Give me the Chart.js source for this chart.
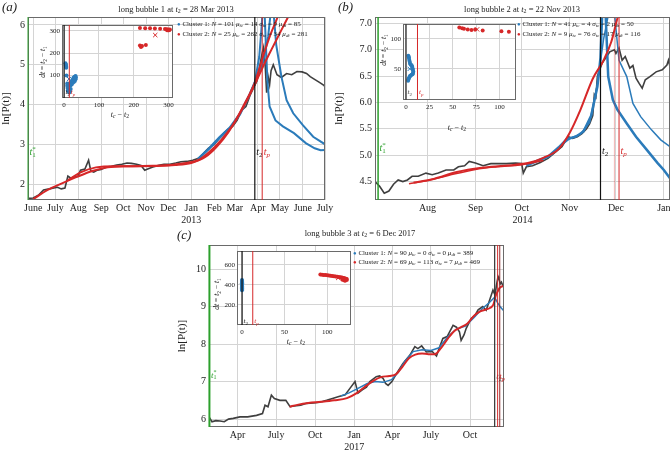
<!DOCTYPE html>
<html>
<head>
<meta charset="utf-8">
<script src="https://cdn.jsdelivr.net/npm/chart.js@4.4.1/dist/chart.umd.min.js"></script>
<style>
  html, body { margin: 0; padding: 0; background: #fff; }
  #fig { position: relative; width: 670px; height: 456px; overflow: hidden; background: #fff;
         font-family: "Liberation Serif", "DejaVu Serif", serif; color: #222; }
  #fig canvas { position: absolute; }
  .t { position: absolute; white-space: nowrap; line-height: 1; }
  .c { transform: translateX(-50%); }
  .mid { transform: translate(-50%, -50%); }
  .rot { transform: translate(-50%, -50%) rotate(-90deg); }
  sub { font-size: 70%; line-height: 0; vertical-align: -0.25em; }
  .leg { position: absolute; font-size: 7px; line-height: 9.5px; white-space: nowrap; }
  .leg span { font-size: 6px; }
</style>
</head>
<body>
<div id="fig">
  <canvas id="ca" width="340" height="228" style="left:0;top:0"></canvas>
  <canvas id="cb" width="337" height="228" style="left:333px;top:0"></canvas>
  <canvas id="cc" width="340" height="228" style="left:176px;top:228px"></canvas>
  <canvas id="ia" width="138" height="100" style="left:40px;top:20px"></canvas>
  <canvas id="ib" width="141" height="104" style="left:380px;top:18px"></canvas>
  <canvas id="ic" width="142" height="101" style="left:214px;top:246px"></canvas>

  <div class="t" style="left:2px;top:0;font-size:13px;font-style:italic">(a)</div>
  <div class="t" style="left:338px;top:0;font-size:13px;font-style:italic">(b)</div>
  <div class="t" style="left:177px;top:228px;font-size:13px;font-style:italic">(c)</div>

  <div class="t c" style="left:176px;top:5px;font-size:8.5px">long bubble 1 at <i>t</i><sub>2</sub> = 28 Mar 2013</div>
  <div class="t c" style="left:522px;top:5px;font-size:8.5px">long bubble 2 at <i>t</i><sub>2</sub> = 22 Nov 2013</div>
  <div class="t c" style="left:360px;top:229px;font-size:8.5px">long bubble 3 at <i>t</i><sub>2</sub> = 6 Dec 2017</div>

  <div class="t rot" style="left:43px;top:62px;font-size:7.5px"><i>dt</i> = <i>t</i><sub>2</sub> − <i>t</i><sub>1</sub></div>
  <div class="t mid" style="left:120px;top:115px;font-size:8px"><i>t<sub>c</sub></i> − <i>t</i><sub>2</sub></div>
  <div class="t rot" style="left:384px;top:50px;font-size:7.5px"><i>dt</i> = <i>t</i><sub>2</sub> − <i>t</i><sub>1</sub></div>
  <div class="t mid" style="left:457px;top:128px;font-size:8px"><i>t<sub>c</sub></i> − <i>t</i><sub>2</sub></div>
  <div class="t rot" style="left:217px;top:294px;font-size:7.5px"><i>dt</i> = <i>t</i><sub>2</sub> − <i>t</i><sub>1</sub></div>
  <div class="t mid" style="left:296px;top:342px;font-size:8px"><i>t<sub>c</sub></i> − <i>t</i><sub>2</sub></div>

  <div class="leg" style="left:177px;top:20px">
    <div><span style="color:#2b7bba">●</span> Cluster 1: <i>N</i> = 101 <i>μ<sub>tc</sub></i> = 14 <i>σ<sub>tc</sub></i> = 9 <i>μ<sub>dt</sub></i> = 85</div>
    <div><span style="color:#d62728">●</span> Cluster 2: <i>N</i> = 25 <i>μ<sub>tc</sub></i> = 262 <i>σ<sub>tc</sub></i> = 34 <i>μ<sub>dt</sub></i> = 281</div>
  </div>
  <div class="leg" style="left:517px;top:20px">
    <div><span style="color:#2b7bba">●</span> Cluster 1: <i>N</i> = 41 <i>μ<sub>tc</sub></i> = 4 <i>σ<sub>tc</sub></i> = 2 <i>μ<sub>dt</sub></i> = 50</div>
    <div><span style="color:#d62728">●</span> Cluster 2: <i>N</i> = 9 <i>μ<sub>tc</sub></i> = 76 <i>σ<sub>tc</sub></i> = 17 <i>μ<sub>dt</sub></i> = 116</div>
  </div>
  <div class="leg" style="left:353px;top:249px;line-height:9px">
    <div><span style="color:#2b7bba">●</span> Cluster 1: <i>N</i> = 90 <i>μ<sub>tc</sub></i> = 0 <i>σ<sub>tc</sub></i> = 0 <i>μ<sub>dt</sub></i> = 389</div>
    <div><span style="color:#d62728">●</span> Cluster 2: <i>N</i> = 69 <i>μ<sub>tc</sub></i> = 113 <i>σ<sub>tc</sub></i> = 7 <i>μ<sub>dt</sub></i> = 469</div>
  </div>
</div>

<script>
// ---------- panel (a): long bubble 1 ----------
const aDates = [
  '2012-05-25','2012-06-01','2012-06-08','2012-06-15','2012-06-23','2012-06-29','2012-07-04','2012-07-09',
  '2012-07-14','2012-07-18','2012-07-22','2012-07-27','2012-08-01','2012-08-04','2012-08-10','2012-08-15',
  '2012-08-18','2012-08-22','2012-08-27','2012-09-01','2012-09-08','2012-09-15','2012-09-22','2012-09-29',
  '2012-10-06','2012-10-12','2012-10-19','2012-10-25','2012-10-30','2012-11-03','2012-11-10','2012-11-18',
  '2012-11-25','2012-12-03','2012-12-11','2012-12-18','2012-12-26','2013-01-03','2013-01-11','2013-01-18',
  '2013-01-24','2013-02-01','2013-02-08','2013-02-14','2013-02-20','2013-02-26','2013-03-04','2013-03-10',
  '2013-03-16','2013-03-22','2013-03-27','2013-03-31','2013-04-04','2013-04-07','2013-04-09','2013-04-11',
  '2013-04-13','2013-04-15','2013-04-17','2013-04-19','2013-04-22','2013-04-27','2013-05-03','2013-05-10',
  '2013-05-17','2013-05-24','2013-05-31','2013-06-06','2013-06-11','2013-06-18','2013-06-24','2013-06-29',
  '2013-07-01'];
const aPrice = [
  1.64,1.65,1.72,1.85,1.88,1.90,1.92,1.88,
  1.90,2.20,2.15,2.17,2.20,2.35,2.38,2.60,
  2.33,2.30,2.35,2.37,2.43,2.45,2.48,2.50,
  2.53,2.52,2.50,2.47,2.35,2.38,2.43,2.47,
  2.50,2.50,2.53,2.56,2.57,2.60,2.65,2.78,
  2.90,3.00,3.15,3.28,3.38,3.45,3.60,3.85,
  3.95,4.25,4.45,4.60,5.00,5.30,5.45,5.00,
  4.30,4.70,4.50,4.85,5.00,4.75,4.68,4.78,
  4.75,4.83,4.82,4.78,4.70,4.62,4.55,4.49,
  4.45];
const aFit1Dates = ['2012-06-01','2012-06-20','2012-07-10','2012-07-30','2012-08-20','2012-09-10','2012-10-10',
  '2012-11-10','2012-12-10','2013-01-01','2013-01-20','2013-02-05','2013-02-20','2013-03-05','2013-03-15',
  '2013-03-28','2013-04-08','2013-04-18','2013-04-28','2013-05-05'];
const aFit1 = [1.62,1.85,2.02,2.18,2.33,2.42,2.45,2.46,2.48,2.53,2.68,2.95,3.30,3.70,4.05,4.55,5.20,5.75,6.20,6.55];
const aFit2Dates = ['2012-07-18','2012-08-05','2012-08-25','2012-09-20','2012-10-20','2012-11-20','2012-12-20',
  '2013-01-10','2013-01-25','2013-02-10','2013-02-25','2013-03-10','2013-03-28','2013-04-08','2013-04-20',
  '2013-05-01','2013-05-12','2013-05-20'];
const aFit2 = [2.10,2.30,2.42,2.45,2.45,2.46,2.52,2.60,2.80,3.10,3.45,3.85,4.50,4.95,5.40,5.80,6.20,6.50];
const aBlue1Dates = ['2013-01-10','2013-01-25','2013-02-08','2013-02-22','2013-03-08','2013-03-20','2013-03-28',
  '2013-04-03','2013-04-06','2013-04-08','2013-04-10','2013-04-12','2013-04-14','2013-04-17','2013-04-25',
  '2013-05-05','2013-05-20','2013-06-05','2013-06-17','2013-06-25','2013-07-01'];
const aBlue1 = [2.62,2.88,3.15,3.40,3.75,4.20,4.55,5.20,5.90,6.50,6.40,5.50,4.60,3.95,3.60,3.45,3.28,3.03,2.90,2.85,2.86];
const aBlue2Dates = ['2013-01-10','2013-01-25','2013-02-08','2013-02-22','2013-03-08','2013-03-20','2013-03-28',
  '2013-04-08','2013-04-15','2013-04-19','2013-04-22','2013-04-26','2013-05-03','2013-05-10','2013-05-19',
  '2013-06-01','2013-06-15','2013-07-01'];
const aBlue2 = [2.64,2.90,3.18,3.42,3.78,4.22,4.57,5.05,5.70,6.40,6.40,5.50,4.70,4.11,3.78,3.48,3.19,3.00];
const aXTicks = ['2012-06-01','2012-07-01','2012-08-01','2012-09-01','2012-10-01','2012-11-01','2012-12-01',
  '2013-01-01','2013-02-01','2013-03-01','2013-04-01','2013-05-01','2013-06-01','2013-07-01'];
const aXLabels = ['June','July','Aug','Sep','Oct','Nov','Dec',['Jan','2013'],'Feb','Mar','Apr','May','June','July'];
const aYTicks = [2, 3, 4, 5, 6];
const aYLabels = ['2','3','4','5','6'];
const aT1 = '2012-05-25', aT2 = '2013-03-28', aTp = '2013-04-07';

// inset (a): clusters in (tc - t2, dt)
const aInsBlueX = [4,5,5,6,6,7,9,9,10,11,13,15,17,19,18,16,19,21,24,27,30,33,34,33,31,28,25,22];
const aInsBlueY = [155,150,145,140,135,100,65,55,45,35,28,25,30,40,55,62,68,75,82,90,95,98,92,84,76,72,68,60];
const aInsRedX = [218,233,247,261,276,290,295,298,300,302,304,296,299,301,218,221,224,235];
const aInsRedY = [313,312,311,310,309,308,307,305,306,304,306,303,303,302,234,228,232,237];
const aInsMeans = { blue: [14, 85], red: [262, 281] };
const aInsTp = 15;

// ---------- panel (b): long bubble 2 ----------
const bDates = [
  '2013-06-28','2013-07-01','2013-07-04','2013-07-07','2013-07-10','2013-07-13','2013-07-16','2013-07-19',
  '2013-07-22','2013-07-26','2013-07-31','2013-08-04','2013-08-08','2013-08-13','2013-08-18','2013-08-21',
  '2013-08-25','2013-08-28','2013-09-01','2013-09-06','2013-09-11','2013-09-16','2013-09-21','2013-09-27',
  '2013-10-01','2013-10-02','2013-10-04','2013-10-08','2013-10-13','2013-10-18','2013-10-22','2013-10-27',
  '2013-10-31','2013-11-03','2013-11-06','2013-11-09','2013-11-12','2013-11-14','2013-11-16','2013-11-17',
  '2013-11-18','2013-11-19','2013-11-22','2013-11-25','2013-11-27','2013-11-30','2013-12-01','2013-12-03',
  '2013-12-05','2013-12-07','2013-12-10','2013-12-12','2013-12-14','2013-12-16','2013-12-18','2013-12-20',
  '2013-12-23','2013-12-27','2013-12-31','2014-01-03','2014-01-04','2014-01-05'];
const bPrice = [
  4.50,4.41,4.28,4.32,4.45,4.53,4.50,4.53,
  4.60,4.60,4.66,4.63,4.66,4.72,4.72,4.78,
  4.80,4.88,4.85,4.80,4.84,4.84,4.84,4.85,
  4.84,4.66,4.78,4.80,4.86,4.94,5.04,5.16,
  5.35,5.32,5.35,5.41,5.50,5.60,5.75,6.15,
  6.10,6.50,6.74,6.87,6.96,7.00,6.93,7.03,
  6.80,6.87,6.65,6.70,6.46,6.36,6.27,6.43,
  6.49,6.58,6.62,6.71,6.80,6.68];
const bFit1Dates = ['2013-07-23','2013-08-05','2013-08-20','2013-09-05','2013-09-20','2013-10-05','2013-10-15',
  '2013-10-25','2013-11-01','2013-11-08','2013-11-16','2013-11-23','2013-11-28','2013-12-02','2013-12-05'];
const bFit1 = [4.48,4.55,4.68,4.76,4.80,4.85,4.95,5.12,5.42,5.86,6.45,6.80,7.15,7.60,7.90];
const bFit2Dates = ['2013-07-20','2013-08-01','2013-08-15','2013-09-01','2013-09-15','2013-10-01','2013-10-15'];
const bFit2 = [4.46,4.52,4.62,4.73,4.78,4.82,4.90];
const bBlue1Dates = ['2013-10-04','2013-10-10','2013-10-18','2013-10-25','2013-10-30','2013-11-05','2013-11-10',
  '2013-11-15','2013-11-19','2013-11-21','2013-11-22','2013-11-24','2013-11-26','2013-11-29','2013-12-02',
  '2013-12-08','2013-12-14','2013-12-21','2013-12-28','2014-01-01','2014-01-05'];
const bBlue1 = [4.80,4.88,4.97,5.15,5.30,5.35,5.45,5.75,6.30,6.85,7.60,7.90,6.49,6.05,5.86,5.60,5.35,5.10,4.85,4.72,4.56];
const bBlue2Dates = ['2013-10-04','2013-10-12','2013-10-20','2013-10-27','2013-11-02','2013-11-08','2013-11-14',
  '2013-11-19','2013-11-23','2013-11-27','2013-11-30','2013-12-03','2013-12-08','2013-12-12','2013-12-17',
  '2013-12-24','2013-12-30','2014-01-05'];
const bBlue2 = [4.82,4.90,5.00,5.20,5.33,5.40,5.62,6.35,7.20,7.80,7.70,6.80,6.49,5.98,5.73,5.48,5.29,5.16];
const bXTicks = ['2013-08-01','2013-09-01','2013-10-01','2013-11-01','2013-12-01','2014-01-01'];
const bXLabels = ['Aug','Sep','Oct','Nov','Dec','Jan'];
const bYTicks = [4.5, 5.0, 5.5, 6.0, 6.5, 7.0, 7.5];
const bYLabels = ['4.5','5.0','5.5','6.0','6.5','7.0','7.0'];
const bT1 = '2013-06-30', bT2 = '2013-11-21', bTpFaint = '2013-11-30', bTp = '2013-12-03';

const bInsBlueX = [2.5,3,3.2,3.5,4,4.3,5,6,6.5,7,7.5,7.8,7.5,7,6,5,4.3,3.5,3,2.5,2.2];
const bInsBlueY = [72,70,68,65,62,59,57,56,54,51,48,45,43,41,40,39,38,36,34,32,30];
const bInsRedX = [57,60,62,66,70,74,82,102,110];
const bInsRedY = [119,118,117,116,115,116,114,113,112];
const bInsMeans = { blue: [4, 50], red: [76, 116] };
const bInsTp = 12.3;

// ---------- panel (c): long bubble 3 ----------
const cDates = [
  '2016-01-25','2016-01-27','2016-02-01','2016-02-10','2016-02-20','2016-03-01','2016-03-11','2016-03-22',
  '2016-04-07','2016-04-25','2016-05-16','2016-05-30','2016-06-05','2016-06-12','2016-06-20','2016-06-27',
  '2016-07-10','2016-07-24','2016-08-03','2016-08-13','2016-08-28','2016-09-11','2016-09-27','2016-10-12',
  '2016-10-28','2016-11-11','2016-11-26','2016-12-11','2016-12-22','2017-01-03','2017-01-10','2017-01-20',
  '2017-01-30','2017-02-07','2017-02-22','2017-03-02','2017-03-10','2017-03-16','2017-03-22','2017-03-31',
  '2017-04-11','2017-04-26','2017-05-12','2017-05-24','2017-05-31','2017-06-09','2017-06-20','2017-07-04',
  '2017-07-14','2017-07-20','2017-07-29','2017-08-08','2017-08-22','2017-08-30','2017-09-06','2017-09-10',
  '2017-09-17','2017-09-22','2017-10-04','2017-10-12','2017-10-20','2017-10-31','2017-11-08','2017-11-16',
  '2017-11-24','2017-11-29','2017-12-02','2017-12-06','2017-12-08','2017-12-11','2017-12-14','2017-12-17',
  '2017-12-20'];
const cPrice = [
  6.00,6.02,5.93,5.96,5.95,5.93,6.00,6.02,
  6.06,6.06,6.10,6.15,6.37,6.33,6.64,6.55,
  6.50,6.50,6.33,6.35,6.37,6.42,6.43,6.45,
  6.50,6.55,6.60,6.65,6.82,7.00,6.69,6.78,
  6.85,7.00,7.13,7.15,7.09,6.95,6.90,7.00,
  7.22,7.48,7.70,7.93,7.88,7.95,7.79,7.80,
  7.68,7.88,8.15,8.20,8.50,8.45,8.33,8.10,
  8.25,8.42,8.69,8.75,8.91,9.00,8.90,9.17,
  9.44,9.30,9.55,9.80,9.75,9.60,9.65,9.56,
  9.60];
const cFitDates = ['2016-08-02','2016-08-20','2016-09-15','2016-10-15','2016-11-15','2016-12-15','2017-01-05',
  '2017-01-25','2017-02-15','2017-03-05','2017-03-25','2017-04-10','2017-04-25','2017-05-10','2017-05-25',
  '2017-06-10','2017-06-25','2017-07-10','2017-07-25','2017-08-10','2017-08-25','2017-09-10','2017-09-25',
  '2017-10-10','2017-10-25','2017-11-10','2017-11-25','2017-12-01','2017-12-05','2017-12-10','2017-12-20'];
const cFit = [6.33,6.38,6.43,6.46,6.50,6.56,6.68,6.85,7.02,7.12,7.15,7.20,7.40,7.62,7.72,7.75,7.73,7.73,7.90,
  8.15,8.35,8.45,8.55,8.75,8.87,8.93,9.05,9.30,9.40,9.50,9.55];
const cBlueDates = ['2016-12-01','2016-12-20','2017-01-10','2017-02-01','2017-02-20','2017-03-10','2017-03-30',
  '2017-04-15','2017-05-01','2017-05-20','2017-06-10','2017-07-01','2017-07-20','2017-08-10','2017-08-30',
  '2017-09-20','2017-10-10','2017-10-30','2017-11-15','2017-11-28','2017-12-05','2017-12-12','2017-12-20'];
const cBlue = [6.62,6.70,6.82,6.95,7.00,6.98,7.05,7.25,7.55,7.80,7.85,7.83,7.90,8.20,8.40,8.48,8.70,8.95,9.10,
  9.25,9.10,8.98,8.88];
const cXTicks = ['2016-04-01','2016-07-01','2016-10-01','2017-01-01','2017-04-01','2017-07-01','2017-10-01'];
const cXLabels = ['Apr','July','Oct',['Jan','2017'],'Apr','July','Oct'];
const cYTicks = [6, 7, 8, 9, 10];
const cYLabels = ['6','7','8','9','10'];
const cT1 = '2016-01-26', cT2 = '2017-11-28', cTp = '2017-12-05', cTp2 = '2017-12-10';

const cInsBlueX = [0,0,0,0,0,0,0,0,0,0,0,0,0,0,0];
const cInsBlueY = [345,355,365,372,380,386,392,398,404,410,418,425,432,440,448];
const cInsRedX = [92,94,96,98,100,102,104,106,108,110,112,114,116,117,118,119,120,121,122,123,118,120,121,122,123];
const cInsRedY = [502,501,499,497,495,492,490,488,485,482,480,477,474,472,470,467,465,463,460,458,450,445,440,455,448];
const cInsMeans = { blue: [0, 389], red: [113, 469] };
const cInsTp = 12.6;

// ---------- drawing ----------
const SERIF = '"Liberation Serif", "DejaVu Serif", serif';
const GRID = '#d4d4d4', FRAME = '#6a6a6a';
const GRAY = '#3f3f3f', BLUE = '#2b7bba', RED = '#d62728', GREEN = '#2ca02c', BLACK = '#111111';
Chart.defaults.font.family = SERIF;
Chart.defaults.color = '#222';

const day = s => Date.parse(s) / 864e5;
const series = (dates, vals) => dates.map((d, i) => ({ x: day(d), y: vals[i] }));
const xy = (xs, ys) => xs.map((x, i) => ({ x: x, y: ys[i] }));

const T1 = { base: 't', sub: '1', sup: '*' }, T2 = { base: 't', sub: '2' }, TP = { base: 't', sub: 'p' };

function drawLabel(ctx, x, y, lab, color, size) {
  ctx.save();
  ctx.fillStyle = color;
  ctx.textAlign = 'left';
  ctx.textBaseline = 'middle';
  ctx.font = 'italic ' + size + 'px ' + SERIF;
  ctx.fillText(lab.base, x, y);
  const w = ctx.measureText(lab.base).width;
  const s = Math.round(size * 0.7);
  ctx.font = (/\d/.test(lab.sub) ? '' : 'italic ') + s + 'px ' + SERIF;
  if (lab.sub) ctx.fillText(lab.sub, x + w, y + size * 0.3);
  if (lab.sup) ctx.fillText(lab.sup, x + w, y - size * 0.35);
  ctx.restore();
}

// vertical marker lines, frame and inset background, keyed by canvas id
const MARKS = {};
Chart.register({
  id: 'marks',
  beforeDraw(chart) {
    const m = MARKS[chart.canvas.id];
    if (!m || !m.fill) return;
    const a = chart.chartArea, ctx = chart.ctx;
    ctx.save();
    ctx.fillStyle = m.fill;
    ctx.fillRect(a.left, a.top, a.right - a.left, a.bottom - a.top);
    ctx.restore();
  },
  afterDatasetsDraw(chart) {
    const m = MARKS[chart.canvas.id] || {};
    const { ctx, chartArea: a, scales } = chart;
    ctx.save();
    ctx.strokeStyle = FRAME;
    ctx.lineWidth = 1;
    ctx.strokeRect(a.left + 0.5, a.top + 0.5, a.right - a.left - 1, a.bottom - a.top - 1);
    (m.lines || []).forEach(l => {
      const px = scales.x.getPixelForValue(l.x);
      ctx.strokeStyle = l.color;
      ctx.lineWidth = l.width || 1;
      ctx.beginPath();
      ctx.moveTo(px, a.top);
      ctx.lineTo(px, a.bottom);
      ctx.stroke();
      if (l.label) drawLabel(ctx, px + 1.5, scales.y.getPixelForValue(l.labelY), l.label, l.color, m.labelSize);
    });
    ctx.restore();
  }
});

function line(dates, vals, color, width, smooth) {
  return {
    data: series(dates, vals), borderColor: color, borderWidth: width, pointRadius: 0,
    fill: false, clip: 0, tension: smooth ? 0.4 : 0,
    cubicInterpolationMode: smooth ? 'monotone' : 'default'
  };
}

function mainChart(id, p) {
  return new Chart(document.getElementById(id), {
    type: 'line',
    data: { datasets: p.datasets },
    options: {
      responsive: false, animation: false, events: [],
      layout: { padding: p.pad },
      plugins: { legend: { display: false }, tooltip: { enabled: false } },
      scales: {
        x: {
          type: 'linear', min: day(p.xMin), max: day(p.xMax),
          grid: { color: GRID, drawTicks: false }, border: { display: false },
          afterBuildTicks: ax => { ax.ticks = p.xTicks.map(d => ({ value: day(d) })); },
          afterFit: ax => { ax.height = p.xH; ax.paddingLeft = 0; ax.paddingRight = 0; },
          ticks: { autoSkip: false, maxRotation: 0, padding: 3, font: { size: 10, lineHeight: 1.15 },
                   callback: (v, i) => p.xLabels[i] },
          title: { display: !!p.xTitle, text: p.xTitle || '', padding: { top: 0, bottom: 2 }, font: { size: 10 } }
        },
        y: {
          type: 'linear', min: p.yMin, max: p.yMax,
          grid: { color: GRID, drawTicks: false }, border: { display: false },
          afterBuildTicks: ax => { ax.ticks = p.yTicks.map(v => ({ value: v })); },
          afterFit: ax => { ax.width = p.yW; ax.paddingTop = 0; ax.paddingBottom = 0; },
          ticks: { padding: 3, font: { size: 10 }, callback: (v, i) => p.yLabels[i] },
          title: { display: true, text: 'ln[P(t)]', padding: 0, font: { size: 11 } }
        }
      }
    }
  });
}

function dots(xs, ys, color) {
  return { data: xy(xs, ys), backgroundColor: color, borderColor: color, borderWidth: 0, pointRadius: 2 };
}
function cross(pt, color) {
  return { data: [{ x: pt[0], y: pt[1] }], pointStyle: 'crossRot', pointRadius: 3,
           borderColor: color, backgroundColor: color, borderWidth: 1 };
}

function insetChart(id, p) {
  return new Chart(document.getElementById(id), {
    type: 'scatter',
    data: { datasets: p.datasets },
    options: {
      responsive: false, animation: false, events: [],
      layout: { padding: p.pad },
      plugins: { legend: { display: false }, tooltip: { enabled: false } },
      scales: {
        x: {
          type: 'linear', min: p.xMin, max: p.xMax,
          grid: { color: GRID, drawTicks: false }, border: { display: false },
          afterBuildTicks: ax => { ax.ticks = p.xTicks.map(v => ({ value: v })); },
          afterFit: ax => { ax.height = p.xH; ax.paddingLeft = 0; ax.paddingRight = 0; },
          ticks: { autoSkip: false, maxRotation: 0, padding: 3, font: { size: 7 } }
        },
        y: {
          type: 'linear', min: p.yMin, max: p.yMax,
          grid: { color: GRID, drawTicks: false }, border: { display: false },
          afterBuildTicks: ax => { ax.ticks = p.yTicks.map(v => ({ value: v })); },
          afterFit: ax => { ax.width = p.yW; ax.paddingTop = 0; ax.paddingBottom = 0; },
          ticks: { padding: 2, font: { size: 7 } }
        }
      }
    }
  });
}

// panel (a)
MARKS.ca = { labelSize: 10, lines: [
  { x: day(aT1), color: GREEN, width: 1, label: T1, labelY: 2.8 },
  { x: day(aT2), color: BLACK, width: 1.2, label: T2, labelY: 2.8 },
  { x: day(aTp), color: RED, width: 1, label: TP, labelY: 2.8 }
] };
mainChart('ca', {
  pad: { top: 17, right: 15, bottom: 0, left: 0 }, yW: 28, xH: 28,
  xMin: '2012-05-25', xMax: '2013-07-01', xTicks: aXTicks, xLabels: aXLabels,
  yMin: 1.6, yMax: 6.2, yTicks: aYTicks, yLabels: aYLabels,
  datasets: [
    line(aFit1Dates, aFit1, RED, 2, true),
    line(aFit2Dates, aFit2, RED, 2, true),
    line(aBlue1Dates, aBlue1, BLUE, 2, false),
    line(aBlue2Dates, aBlue2, BLUE, 2, false),
    line(aDates, aPrice, GRAY, 1.6, false)
  ]
});

// panel (b)
MARKS.cb = { labelSize: 10, lines: [
  { x: day(bT1), color: GREEN, width: 1.5, label: T1, labelY: 5.13 },
  { x: day(bT2), color: BLACK, width: 1.2, label: T2, labelY: 5.08 },
  { x: day(bTpFaint), color: 'rgba(214,39,40,0.35)', width: 1 },
  { x: day(bTp), color: RED, width: 1, label: TP, labelY: 5.08 }
] };
mainChart('cb', {
  pad: { top: 17, right: 0, bottom: 0, left: 0 }, yW: 42, xH: 28, xTitle: '2014',
  xMin: '2013-06-28', xMax: '2014-01-05', xTicks: bXTicks, xLabels: bXLabels,
  yMin: 4.15, yMax: 7.62, yTicks: bYTicks, yLabels: bYLabels,
  datasets: [
    line(bFit1Dates, bFit1, RED, 2, true),
    line(bFit2Dates, bFit2, RED, 1.5, true),
    line(bBlue1Dates, bBlue1, BLUE, 2.5, false),
    line(bBlue2Dates, bBlue2, BLUE, 1.5, false),
    line(bDates, bPrice, GRAY, 1.6, false)
  ]
});

// panel (c)
MARKS.cc = { labelSize: 9, lines: [
  { x: day(cT1), color: GREEN, width: 2, label: T1, labelY: 7.17 },
  { x: day(cT2), color: '#333333', width: 1.2, label: T2, labelY: 7.13 },
  { x: day(cTp), color: RED, width: 1, label: TP, labelY: 7.13 },
  { x: day(cTp2), color: '#8c2a2a', width: 1 }
] };
mainChart('cc', {
  pad: { top: 17, right: 12, bottom: 0, left: 0 }, yW: 33, xH: 29,
  xMin: '2016-01-25', xMax: '2017-12-20', xTicks: cXTicks, xLabels: cXLabels,
  yMin: 5.79, yMax: 10.64, yTicks: cYTicks, yLabels: cYLabels,
  datasets: [
    line(cFitDates, cFit, RED, 2, true),
    line(cBlueDates, cBlue, BLUE, 1.5, false),
    line(cDates, cPrice, GRAY, 1.6, false)
  ]
});

// insets
MARKS.ia = { fill: '#ffffff', labelSize: 7, lines: [
  { x: 0, color: BLACK, width: 1.2, label: T2, labelY: 24 },
  { x: aInsTp, color: RED, width: 1, label: TP, labelY: 24 }
] };
insetChart('ia', {
  pad: { top: 5, right: 5, bottom: 0, left: 0 }, yW: 22, xH: 22,
  xMin: -6, xMax: 313, xTicks: [0, 100, 200, 300], yMin: 0, yMax: 326, yTicks: [100, 200, 300],
  datasets: [
    cross(aInsMeans.blue, BLUE), cross(aInsMeans.red, RED),
    dots(aInsBlueX, aInsBlueY, BLUE), dots(aInsRedX, aInsRedY, RED)
  ]
});

MARKS.ib = { fill: '#ffffff', labelSize: 7, lines: [
  { x: 0, color: '#444444', width: 1.5, label: T2, labelY: 11 },
  { x: bInsTp, color: RED, width: 1, label: TP, labelY: 11 }
] };
insetChart('ib', {
  pad: { top: 6, right: 5, bottom: 0, left: 0 }, yW: 23, xH: 22,
  xMin: -3.2, xMax: 117.6, xTicks: [0, 25, 50, 75, 100], yMin: -2, yMax: 125, yTicks: [50, 100],
  datasets: [
    cross(bInsMeans.blue, BLUE), cross(bInsMeans.red, RED),
    dots(bInsBlueX, bInsBlueY, BLUE), dots(bInsRedX, bInsRedY, RED)
  ]
});

MARKS.ic = { fill: '#ffffff', labelSize: 7, lines: [
  { x: 0, color: BLACK, width: 1.2, label: T2, labelY: 34 },
  { x: cInsTp, color: RED, width: 1, label: TP, labelY: 34 }
] };
insetChart('ic', {
  pad: { top: 5, right: 5, bottom: 0, left: 0 }, yW: 23, xH: 22,
  xMin: -5.9, xMax: 128, xTicks: [0, 50, 100], yMin: 0, yMax: 737, yTicks: [200, 400, 600],
  datasets: [
    cross(cInsMeans.blue, BLUE), cross(cInsMeans.red, RED),
    dots(cInsBlueX, cInsBlueY, BLUE), dots(cInsRedX, cInsRedY, RED)
  ]
});
</script>
</body>
</html>
